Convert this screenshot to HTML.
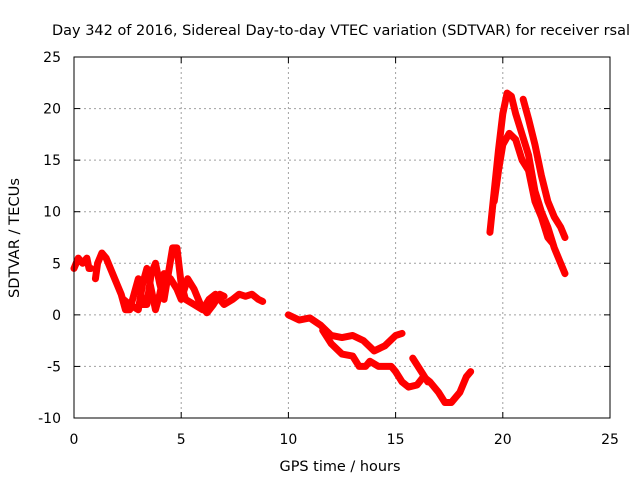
<!DOCTYPE html>
<html><head><meta charset="utf-8"><style>
body{margin:0;background:#fff}
svg{display:block;font-family:"DejaVu Sans","Liberation Sans",sans-serif;font-size:14px}
</style></head><body>
<svg width="640" height="480" id="chart">
<rect width="640" height="480" fill="#fff"/>
<text x="341" y="35" text-anchor="middle" textLength="578" lengthAdjust="spacingAndGlyphs">Day 342 of 2016, Sidereal Day-to-day VTEC variation (SDTVAR) for receiver rsal</text>
<text x="340" y="471" text-anchor="middle" textLength="121" lengthAdjust="spacingAndGlyphs">GPS time / hours</text>
<text transform="translate(19,238) rotate(-90)" text-anchor="middle" textLength="120" lengthAdjust="spacingAndGlyphs">SDTVAR / TECUs</text>
<g id="grid"></g><g id="ticks"></g><g id="series"></g>
<rect x="74" y="57" width="536" height="361" fill="none" stroke="#000" stroke-width="1"/>
</svg>
<script>
const xTicks=[0,5,10,15,20,25];
const yTicks=[-10,-5,0,5,10,15,20,25];
const s1=[[0,4.5],[0.2,5.5],[0.4,5],[0.6,5.5],[0.7,4.5],[0.8,4.5]];
const s2=[[1.0,3.5],[1.1,5],[1.3,6],[1.5,5.5],[1.8,4],[2.0,3],[2.2,2],[2.4,0.5],[2.6,0.5],[2.8,2],[3.0,3.5],[3.2,1],[3.4,1],[3.6,4],[3.8,5],[4.0,3],[4.2,1.5],[4.4,4],[4.6,6.5],[4.8,6.5],[5.0,3],[5.2,1.5],[5.6,1],[6.0,0.5],[6.3,1.5],[6.6,2],[7.0,1],[7.4,1.5],[7.7,2],[8.0,1.8],[8.3,2],[8.6,1.5],[8.8,1.3]];
const s3=[[2.3,1.5],[2.6,1],[3.0,0.5],[3.2,3],[3.4,4.5],[3.6,2.5],[3.8,0.5],[4.0,2],[4.2,4],[4.5,3.5],[4.8,2.5],[5.0,1.5],[5.3,3.5],[5.6,2.5],[5.9,1],[6.2,0.2],[6.5,1],[6.8,2],[7.0,1.8]];
const s4=[[10,0],[10.5,-0.5],[11,-0.3],[11.5,-1],[12,-2],[12.5,-2.2],[13,-2],[13.5,-2.5],[14,-3.5],[14.5,-3],[15,-2],[15.3,-1.8]];
const s5=[[11.6,-1.5],[12,-2.8],[12.5,-3.8],[13,-4],[13.3,-5],[13.6,-5],[13.8,-4.5],[14.2,-5],[14.8,-5],[15,-5.5],[15.3,-6.5],[15.6,-7],[16,-6.8],[16.3,-6],[16.6,-6.5],[17,-7.5],[17.3,-8.5],[17.6,-8.5],[18,-7.5],[18.3,-6],[18.5,-5.5]];
const s6=[[15.8,-4.2],[16.2,-5.5],[16.5,-6.5]];
const s7=[[19.4,8],[19.6,12],[19.8,16],[20.0,19.5],[20.2,21.5],[20.4,21.2],[20.6,19.5],[20.9,17.5],[21.2,15.5],[21.5,12],[21.8,10],[22.1,8.5],[22.4,6.5],[22.7,5],[22.9,4]];
const s8=[[19.6,11],[19.8,14],[20.0,16.5],[20.3,17.6],[20.6,17],[20.9,15],[21.2,14],[21.5,11],[21.8,9.5],[22.1,7.5],[22.3,7]];
const s9=[[20.95,20.9],[21.2,19],[21.5,16.5],[21.8,13.5],[22.1,11],[22.4,9.5],[22.7,8.5],[22.9,7.5]];
const allSeries=[s1,s2,s3,s4,s5,s6,s7,s8,s9];
const X=h=>74+h*(536/25);
const Y=v=>418-(v+10)*(361/35);
const NS="http://www.w3.org/2000/svg";
const grid=document.getElementById('grid'),ticks=document.getElementById('ticks'),ser=document.getElementById('series');
function mk(tag,at,parent){const e=document.createElementNS(NS,tag);for(const k in at)e.setAttribute(k,at[k]);parent.appendChild(e);return e;}
xTicks.forEach(t=>{
  if(t>0&&t<25){const g=mk('line',{x1:X(t),x2:X(t),y1:57,y2:418,stroke:'#a0a0a0','stroke-dasharray':'2,3'},grid);
  
  }
  const l=mk('text',{x:X(t),y:444,'text-anchor':'middle'},ticks);l.textContent=t;
  
  
  mk('line',{x1:X(t),x2:X(t),y1:418,y2:412,stroke:'#000'},ticks);
  mk('line',{x1:X(t),x2:X(t),y1:57,y2:63,stroke:'#000'},ticks);
});
yTicks.forEach(t=>{
  if(t>-10&&t<25){const g=mk('line',{x1:74,x2:610,y1:Y(t),y2:Y(t),stroke:'#a0a0a0','stroke-dasharray':'2,3'},grid);
  
  }
  const l=mk('text',{x:61,y:Y(t)+5,'text-anchor':'end'},ticks);l.textContent=t;
  
  
  mk('line',{x1:74,x2:80,y1:Y(t),y2:Y(t),stroke:'#000'},ticks);
  mk('line',{x1:610,x2:604,y1:Y(t),y2:Y(t),stroke:'#000'},ticks);
});
allSeries.forEach((s,i)=>{
  const p=mk('polyline',{points:s.map(d=>X(d[0])+','+Y(d[1])).join(' '),fill:'none',stroke:'#f00','stroke-width':7,'stroke-linejoin':'round','stroke-linecap':'round'},ser);
  
  
});
</script>
</body></html>
